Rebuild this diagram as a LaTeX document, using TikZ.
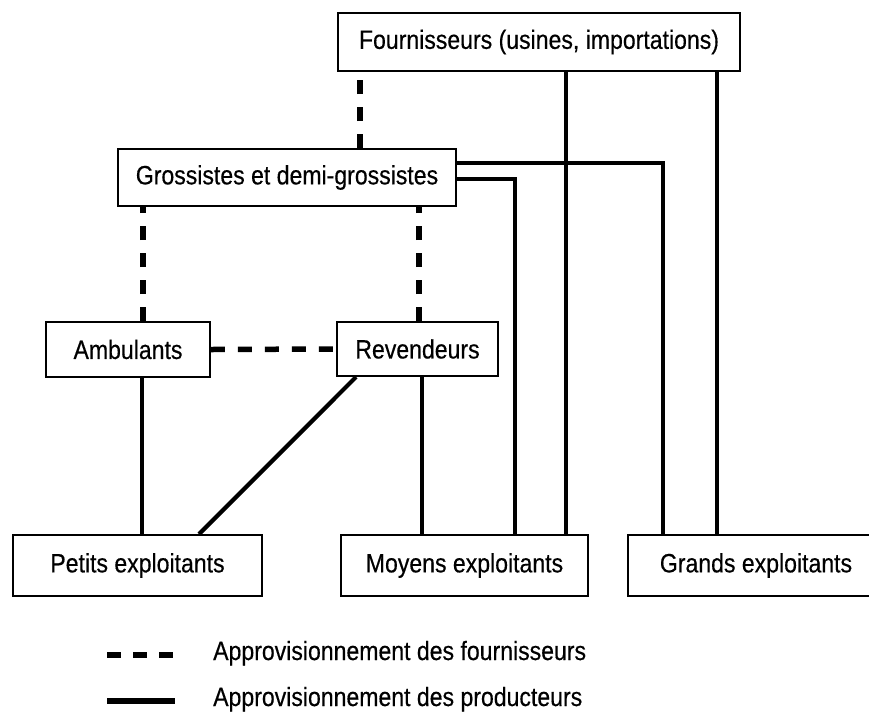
\documentclass[tikz,border=0pt]{standalone}
\usepackage{fontspec}
\setmainfont{Liberation Sans}[FakeStretch=0.87,FakeBold=0.4]
\tikzset{
  box/.style={draw=black, line width=1.8pt, fill=white, inner sep=0pt, font=\fontsize{26.5}{30}\selectfont},
  supply/.style={line width=5.5pt, dash pattern=on 14pt off 13pt},
  prod/.style={line width=4.2pt},
  legtext/.style={anchor=base west, inner sep=0pt, font=\fontsize{26.5}{30}\selectfont}
}
\begin{document}
\begin{tikzpicture}[x=1pt,y=1pt]
\useasboundingbox (0,0) rectangle (869,-713);
% nodes
\node[box, minimum width=402pt, minimum height=58pt] (F) at (539,-42) {Fournisseurs (usines, importations)};
\node[box, minimum width=338pt, minimum height=57pt] (G) at (287,-177.5) {Grossistes et demi-grossistes};
\node[box, minimum width=164pt, minimum height=55pt] (A) at (128,-349.5) {Ambulants};
\node[box, minimum width=161pt, minimum height=54pt] (R) at (417.5,-349) {Revendeurs};
\node[box, minimum width=249pt, minimum height=61pt] (P) at (137.5,-565.5) {Petits exploitants};
\node[box, minimum width=247pt, minimum height=61pt] (M) at (464.5,-565.5) {Moyens exploitants};
\node[box, minimum width=244pt, minimum height=61pt] (Gr) at (750,-565.5) {\hspace*{12pt}Grands exploitants};
% connectors
\draw[supply] ([xshift=243pt]G.north west) -- ([xshift=243pt]G.north west |- F.south);
\draw[supply] ([xshift=15pt]A.north) -- ([xshift=15pt]A.north |- G.south);
\draw[supply] ([xshift=1.5pt]R.north) -- ([xshift=1.5pt]R.north |- G.south);
\draw[supply] (A.east) -- (R.west);
\draw[prod] ([xshift=14pt]A.south) -- ([xshift=14pt]A.south |- P.north);
\draw[prod] ([xshift=20pt]R.south west) -- ([xshift=61.5pt]P.north);
\draw[prod] ([xshift=4.5pt]R.south) -- ([xshift=4.5pt]R.south |- M.north);
\draw[prod] ([yshift=-1.5pt]G.east) -| ([xshift=50.5pt]M.north);
\draw[prod] ([yshift=14.5pt]G.east) -| ([xshift=-87pt]Gr.north);
\draw[prod] ([xshift=101.5pt]M.north) -- ([xshift=101.5pt]M.north |- F.south);
\draw[prod] ([xshift=-33pt]Gr.north) -- ([xshift=-33pt]Gr.north |- F.south);
% legend
\node[legtext] (L1) at (213,-660) {Approvisionnement des fournisseurs};
\node[legtext] (L2) at (213,-706) {Approvisionnement des producteurs};
\coordinate (l1a) at (107,-655);
\coordinate (l2a) at (107,-701);
\draw[line width=5.5pt, dash pattern=on 14pt off 12pt] (l1a) -- (l1a -| 173,0);
\draw[line width=6pt] (l2a) -- (l2a -| 175,0);
\end{tikzpicture}
\end{document}
